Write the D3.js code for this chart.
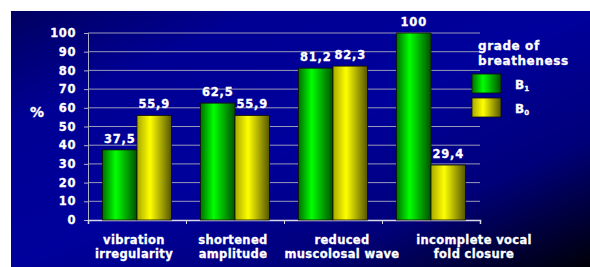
<!doctype html>
<html>
<head>
<script src="https://d3js.org/d3.v7.min.js"></script>
<style>
  body { margin: 0; background: #fff; }
  text { font-family: "DejaVu Sans", sans-serif; font-weight: bold; fill: #fff; stroke: #fff; stroke-width: 0.3px; }
</style>
</head>
<body>
<svg width="590" height="267" id="chart"></svg>
<script>
// data
var categories = [["vibration", "irregularity"], ["shortened", "amplitude"], ["reduced", "muscolosal wave"], ["incomplete vocal", "fold closure"]];
var seriesNames = ["B1", "B0"];
var b1Values = [37.5, 62.5, 81.2, 100];
var b0Values = [55.9, 55.9, 82.3, 29.4];
var yTicks = [0, 10, 20, 30, 40, 50, 60, 70, 80, 90, 100];

// category labels were placed by hand in the original, not centred on the band
var labelShift = [-3, -2, 9, 43];

var svg = d3.select("#chart");
var defs = svg.append("defs");

// background gradient
var bg = defs.append("linearGradient").attr("id", "bg")
  .attr("x1", 0).attr("y1", 0).attr("x2", 1).attr("y2", 1);
bg.append("stop").attr("offset", 0).attr("stop-color", "#000060");
bg.append("stop").attr("offset", 0.22).attr("stop-color", "#000094");
bg.append("stop").attr("offset", 0.5).attr("stop-color", "#00009c");
bg.append("stop").attr("offset", 0.75).attr("stop-color", "#00007a");
bg.append("stop").attr("offset", 1).attr("stop-color", "#000008");

function barGrad(id, c0, c1, c2) {
  var g = defs.append("linearGradient").attr("id", id)
    .attr("x1", 0).attr("y1", 0).attr("x2", 1).attr("y2", 0);
  g.append("stop").attr("offset", 0).attr("stop-color", c0);
  g.append("stop").attr("offset", 0.38).attr("stop-color", c1);
  g.append("stop").attr("offset", 1).attr("stop-color", c2);
}
barGrad("gB1", "#007000", "#00ff00", "#005000");
barGrad("gB0", "#a8a800", "#ffff00", "#555500");

svg.append("rect").attr("x", 11).attr("y", 11).attr("width", 579).attr("height", 256)
  .attr("fill", "url(#bg)");

// scales
var x0 = d3.scaleBand().domain(d3.range(categories.length)).range([88, 480]);
var x1 = d3.scaleBand().domain(seriesNames).range([0, x0.bandwidth()]).paddingOuter(0.42);
var y = d3.scaleLinear().domain([0, 100]).range([220, 33]);

// gridlines
svg.append("g").selectAll("line").data(yTicks.slice(1)).enter().append("line")
  .attr("x1", 88).attr("x2", 480)
  .attr("y1", function (d) { return y(d); }).attr("y2", function (d) { return y(d); })
  .attr("stroke", "#9a9ab8").attr("stroke-width", 1);

// y axis
var yAxis = svg.append("g").attr("transform", "translate(88,0)")
  .call(d3.axisLeft(y).tickValues(yTicks).tickSize(4).tickPadding(8));
yAxis.select(".domain").attr("stroke", "#b0b0c8");
yAxis.selectAll(".tick line").attr("stroke", "#b0b0c8");
yAxis.selectAll(".tick text").style("font-size", "11.5px").style("letter-spacing", "0.6px")
  .attr("fill", "#fff").attr("font-family", null);

// x axis
var xAxis = svg.append("g").attr("transform", "translate(0,220)")
  .call(d3.axisBottom(d3.scaleLinear().domain([0, 4]).range([88, 480])).ticks(4).tickSize(4).tickFormat(""));
xAxis.select(".domain").attr("stroke", "#d8d8e8").attr("stroke-width", 1.5);
xAxis.selectAll(".tick line").attr("stroke", "#d8d8e8");

// bars
var rows = categories.map(function (c, i) { return [{ s: "B1", v: b1Values[i], i: i }, { s: "B0", v: b0Values[i], i: i }]; });
var groups = svg.append("g").selectAll("g").data(rows).enter().append("g")
  .attr("transform", function (d, i) { return "translate(" + x0(i) + ",0)"; });
groups.selectAll("rect").data(function (d) { return d; }).enter().append("rect")
  .attr("x", function (d) { return x1(d.s); })
  .attr("y", function (d) { return y(d.v); })
  .attr("width", x1.bandwidth())
  .attr("height", function (d) { return y(0) - y(d.v); })
  .attr("fill", function (d) { return "url(#g" + d.s + ")"; })
  .attr("stroke", "#101000").attr("stroke-width", 0.8);
groups.selectAll("text").data(function (d) { return d; }).enter().append("text")
  .attr("x", function (d) { return x1(d.s) + x1.bandwidth() / 2; })
  .attr("y", function (d) { return y(d.v) - 7; })
  .attr("text-anchor", "middle")
  .style("font-size", "11.5px").style("letter-spacing", "0.8px")
  .text(function (d) { return String(d.v).replace(".", ","); });

// category labels
categories.forEach(function (c, i) {
  var t = svg.append("text").attr("text-anchor", "middle")
    .style("font-size", "11.5px").style("letter-spacing", "0.35px");
  c.forEach(function (line, k) {
    t.append("tspan").attr("x", x0(i) + x0.bandwidth() / 2 + labelShift[i]).attr("y", 244 + k * 14).text(line);
  });
});

// % label
svg.append("text").attr("x", 37).attr("y", 117).attr("text-anchor", "middle")
  .style("font-size", "14px").text("%");

// legend
var lt = svg.append("text").style("font-size", "12px").style("letter-spacing", "0.6px");
lt.append("tspan").attr("x", 478).attr("y", 50).text("grade of");
lt.append("tspan").attr("x", 478).attr("y", 64.5).text("breatheness");
var legendY = [74, 98];
seriesNames.forEach(function (s, k) {
  svg.append("rect").attr("x", 472).attr("y", legendY[k]).attr("width", 29).attr("height", 19)
    .attr("fill", "url(#g" + s + ")").attr("stroke", "#101000").attr("stroke-width", 0.8);
  var t = svg.append("text").attr("x", 515).attr("y", legendY[k] + 15).style("font-size", "12px");
  t.append("tspan").text(s.charAt(0));
  t.append("tspan").attr("dy", 2).style("font-size", "7px").text(s.charAt(1));
});
</script>
</body>
</html>
